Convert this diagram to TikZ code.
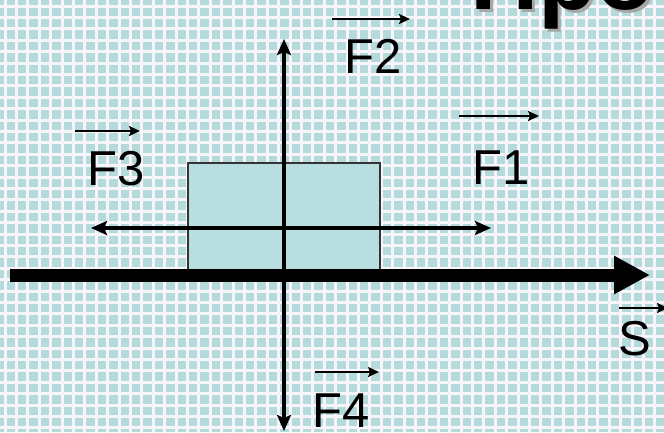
\documentclass[tikz,border=0pt]{standalone}
\usepackage{fontspec}
\setmainfont{Liberation Sans}
\usetikzlibrary{arrows.meta}
\definecolor{cellc}{HTML}{B4DADB}
\definecolor{gridl}{HTML}{F7F5FA}
\definecolor{boxc}{HTML}{B8DEDF}
\definecolor{boxline}{HTML}{333333}
\tikzset{
  lab/.style={inner sep=0pt, font=\fontsize{49}{58}\selectfont, anchor=base west},
  vec/.style={line width=2pt, -{Stealth[length=11pt,width=10pt,inset=2pt]}},
  axis/.style={line width=4pt, {Stealth[length=16pt,width=14pt,inset=3pt]}-{Stealth[length=16pt,width=14pt,inset=3pt]}},
  ground/.style={line width=13pt, -{Triangle[length=36pt,width=36pt]}},
  body/.style={draw=boxline, fill=boxc, line width=1.2pt, inner sep=0pt, minimum width=192pt, minimum height=107pt}
}
\begin{document}
\begin{tikzpicture}[x=1pt,y=-1pt]
\useasboundingbox (0,0) rectangle (664,432);
\fill[cellc] (0,0) rectangle (664,432);
\foreach \k in {0,...,58} {
  \draw[gridl, line width=3pt] ({5+11.4*\k},-5) -- ({5+11.4*\k},440);
}
\foreach \k in {0,...,38} {
  \draw[gridl, line width=3pt] (-5,{6+11.4*\k}) -- (670,{6+11.4*\k});
}
% title (cut off)
\node[inner sep=0pt, anchor=base west, text=gray!70, font=\fontsize{95}{110}\selectfont\bfseries] (titsh) at (473,12) {Про};
\node[inner sep=0pt, anchor=base west, font=\fontsize{95}{110}\selectfont\bfseries] (tit) at (470,9) {Про};
% body
\node[body] (box) at (284,216.5) {};
% ground
\coordinate (g0) at (10,275);
\coordinate (g1) at (650,275);
\draw[ground] (g0) -- (g1);
% axes
\coordinate (vt) at (284,39);
\coordinate (vb) at (284,431);
\draw[axis] (vb) -- (vt);
\coordinate (hl) at (91,228);
\coordinate (hr) at (491,228);
\draw[axis] (hl) -- (hr);
% labels
\node[lab] (f2) at (344,73) {F2};
\coordinate (v2a) at (332,19); \coordinate (v2b) at (410,19);
\draw[vec] (v2a) -- (v2b);
\node[lab] (f1) at (472,184) {F1};
\coordinate (v1a) at (459,116); \coordinate (v1b) at (539,116);
\draw[vec] (v1a) -- (v1b);
\node[lab] (f3) at (87,185) {F3};
\coordinate (v3a) at (75,131); \coordinate (v3b) at (140,131);
\draw[vec] (v3a) -- (v3b);
\node[lab] (f4) at (312,427) {F4};
\coordinate (v4a) at (315,372); \coordinate (v4b) at (379,372);
\draw[vec] (v4a) -- (v4b);
\node[lab] (s) at (618,355) {S};
\coordinate (vsa) at (619,308); \coordinate (vsb) at (668,308);
\draw[vec] (vsa) -- (vsb);
\end{tikzpicture}
\end{document}
